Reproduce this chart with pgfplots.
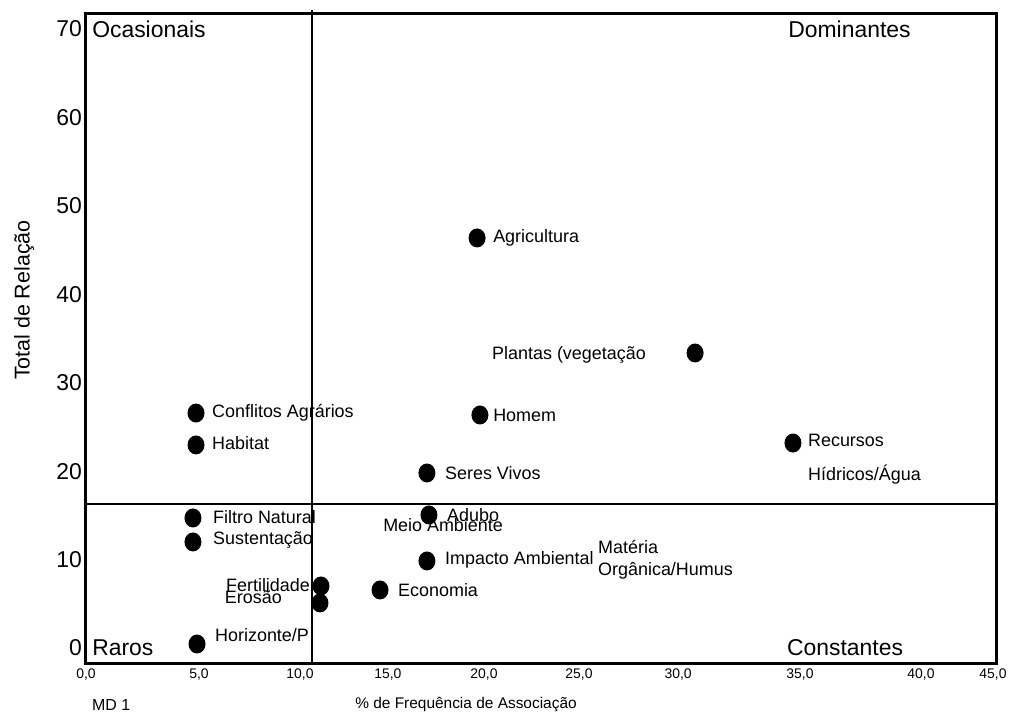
\documentclass[border=0pt]{standalone}
\usepackage{fontspec}
\setmainfont{Liberation Sans}
\usepackage{pgfplots}
\pgfplotsset{compat=1.18}

% filled ellipse, a bit taller than wide, as in the reference
\pgfdeclareplotmark{ell}{%
  \pgfpathellipse{\pgfpointorigin}{\pgfqpoint{8.5bp}{0pt}}{\pgfqpoint{0pt}{9.5bp}}%
  \pgfusepathqfill}

\tikzset{
  lbl/.style={font=\fontsize{18}{20}\selectfont, inner sep=0pt},
  quad/.style={font=\fontsize{23}{26}\selectfont, inner sep=0pt, anchor=west},
}

\begin{document}
\begin{tikzpicture}
\begin{axis}[
  name=ax,
  scale only axis,
  width=910bp, height=649bp,
  xmin=0, xmax=45,
  ymin=-1.70, ymax=71.70,
  clip=false,
  axis line style={line width=3bp},
  major tick length=0pt,
  xtick={0,5.59,10.58,14.93,19.68,24.38,29.28,35.31,41.29,44.85},
  xticklabels={{0,0},{5,0},{10,0},{15,0},{20,0},{25,0},{30,0},{35,0},{40,0},{45,0}},
  ytick={0,10,20,30,40,50,60,70},
  yticklabels={0,10,20,30,40,50,60,70},
  x tick label style={font=\fontsize{14}{16}\selectfont, inner sep=0pt},
  y tick label style={font=\fontsize{23}{26}\selectfont, inner sep=0pt},
  xticklabel shift=6bp,
  yticklabel shift=4bp,
  xlabel={\% de Frequência de Associação},
  xlabel style={font=\fontsize{15.5}{18}\selectfont, at={(axis description cs:0.4176,-0.0647)}, anchor=center},
  ylabel={Total de Relação},
  ylabel style={font=\fontsize{21.5}{24}\selectfont, at={(axis description cs:-0.0681,0.559)}, anchor=center},
]
% quadrant dividers
\addplot[black, line width=1.2bp] coordinates {(11.18,-1.70) (11.18,72.15)};
\addplot[black, line width=1.2bp] coordinates {(0,16.28) (45,16.28)};

% terms: % frequency of association vs total of relations
\addplot[only marks, mark=ell, black] coordinates {
  (19.34,46.37) % Agricultura
  (30.12,33.36) % Plantas
  (19.48,26.35) % Homem
  (5.44,26.57)  % Conflitos Agrarios
  (5.44,22.96)  % Habitat
  (34.96,23.18) % Recursos Hidricos
  (16.86,19.79) % Seres Vivos
  (5.29,14.70)  % Filtro Natural
  (5.29,11.99)  % Sustentacao
  (16.96,15.04) % Adubo
  (16.86,9.84)  % Impacto Ambiental
  (14.54,6.56)  % Economia
  (11.62,7.01)  % Fertilidade
  (11.57,5.09)  % Erosao
  (5.49,0.45)   % Horizonte/P
};

\node[lbl, anchor=west] at (axis cs:20.13,46.37) {Agricultura};
\node[lbl, anchor=east] at (axis cs:27.69,33.13) {Plantas (vegetação};
\node[lbl, anchor=west] at (axis cs:20.13,26.35) {Homem};
\node[lbl, anchor=west] at (axis cs:6.23,26.57) {Conflitos Agrários};
\node[lbl, anchor=west] at (axis cs:6.23,23.18) {Habitat};
\node[lbl, anchor=west] at (axis cs:35.70,23.52) {Recursos};
\node[lbl, anchor=west] at (axis cs:35.70,19.56) {Hídricos/Água};
\node[lbl, anchor=west] at (axis cs:17.75,19.79) {Seres Vivos};
\node[lbl, anchor=west] at (axis cs:6.28,14.81) {Filtro Natural};
\node[lbl, anchor=west] at (axis cs:6.28,12.21) {Sustentação};
\node[lbl, anchor=west] at (axis cs:17.85,15.04) {Adubo};
\node[lbl, anchor=west] at (axis cs:14.69,13.91) {Meio Ambiente};
\node[lbl, anchor=west] at (axis cs:17.75,9.95) {Impacto Ambiental};
\node[lbl, anchor=west] at (axis cs:25.32,11.42) {Matéria};
\node[lbl, anchor=west] at (axis cs:25.32,8.71) {Orgânica/Humus};
\node[lbl, anchor=west] at (axis cs:15.43,6.56) {Economia};
\node[lbl, anchor=east] at (axis cs:11.08,7.12) {Fertilidade};
\node[lbl, anchor=east] at (axis cs:9.69,5.77) {Erosão};
\node[lbl, anchor=west] at (axis cs:6.38,1.47) {Horizonte/P};

% quadrant names
\node[quad] at (axis cs:0.30,70) {Ocasionais};
\node[quad] at (axis cs:34.72,70) {Dominantes};
\node[quad] at (axis cs:0.30,0) {Raros};
\node[quad] at (axis cs:34.66,0) {Constantes};

\node[font=\fontsize{16}{18}\selectfont, inner sep=0pt, anchor=west] at (axis description cs:0.0066,-0.0647) {MD 1};
\end{axis}
\pgfresetboundingbox
\path[use as bounding box] (ax.south west) ++(-86bp,-54bp) rectangle ++(1011bp,717bp);
\end{tikzpicture}
\end{document}
